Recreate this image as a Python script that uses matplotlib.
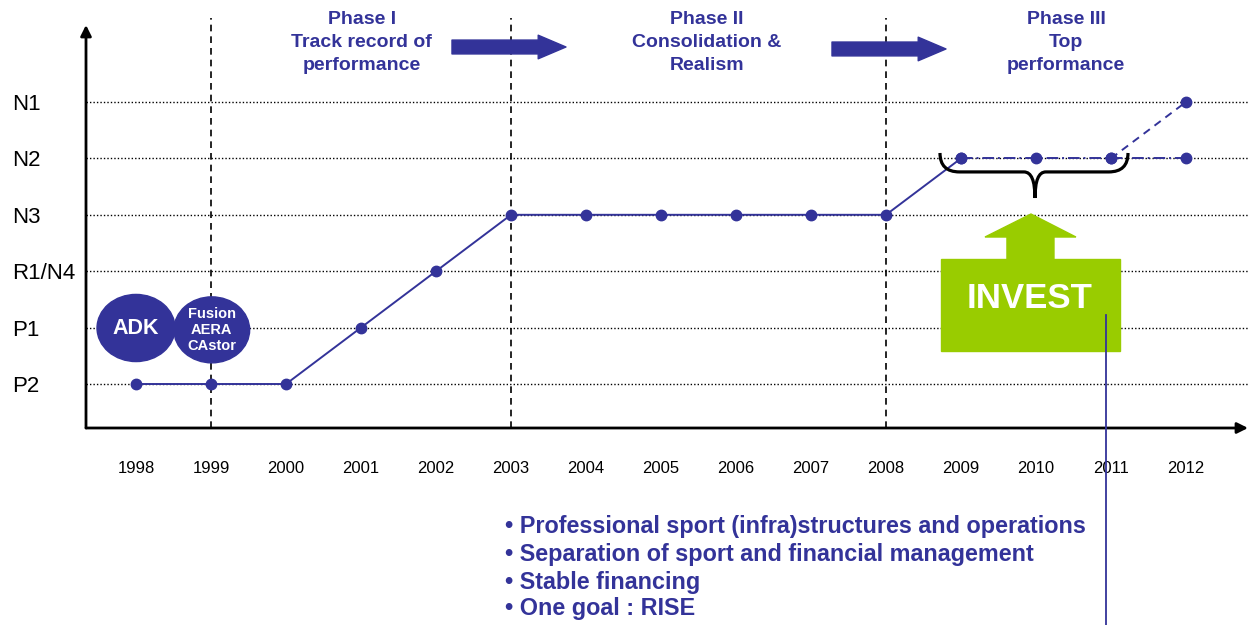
import matplotlib
matplotlib.use("Agg")
import matplotlib.pyplot as plt
from matplotlib.patches import Ellipse, Polygon, Rectangle, PathPatch
from matplotlib.path import Path

plt.rcParams['font.family'] = ['Liberation Sans', 'DejaVu Sans']

NAVY = "#333399"
GREEN = "#99cc00"

# Donnees du graphique
years = [1998, 1999, 2000, 2001, 2002, 2003, 2004, 2005, 2006, 2007, 2008, 2009, 2010, 2011, 2012]
level_labels = ["P2", "P1", "R1/N4", "N3", "N2", "N1"]
level_values = [0, 1, 2, 3, 4, 5]

# parcours realise (trait plein)
done_years = [1998, 1999, 2000, 2001, 2002, 2003, 2004, 2005, 2006, 2007, 2008, 2009]
done_levels = [0, 0, 0, 1, 2, 3, 3, 3, 3, 3, 3, 4]
# plateau N2 prevu (tiret-point)
plan_years = [2009, 2010, 2011, 2012]
plan_levels = [4, 4, 4, 4]
# montee possible en N1 (tirets)
up_years = [2011, 2012]
up_levels = [4, 5]

phase_years = [1999, 2003, 2008]
phases = ["Phase I\nTrack record of\nperformance",
          "Phase II\nConsolidation &\nRealism",
          "Phase III\nTop\nperformance"]
phase_x = [2001.01, 2005.61, 2010.4]

bullets = ["• Professional sport (infra)structures and operations",
           "• Separation of sport and financial management",
           "• Stable financing",
           "• One goal : RISE"]

fig = plt.figure(figsize=(12.51, 6.25), dpi=100)
ax = fig.add_axes([86 / 1251, 197 / 625, 1162 / 1251, 403 / 625])
ax.set_xlim(1997.333, 2012.827)
ax.set_ylim(-0.780, 6.365)

for s in ax.spines.values():
    s.set_visible(False)

# axes avec fleches
ax.annotate("", xy=(0, 1), xytext=(0, 0), xycoords="axes fraction",
            arrowprops=dict(arrowstyle="-|>", color="black", lw=2, mutation_scale=16, shrinkA=0, shrinkB=0))
ax.annotate("", xy=(1, 0), xytext=(0, 0), xycoords="axes fraction",
            arrowprops=dict(arrowstyle="-|>", color="black", lw=2, mutation_scale=16, shrinkA=0, shrinkB=0))

ax.set_xticks(years)
ax.set_xticklabels([str(y) for y in years])
ax.tick_params(axis="x", length=0, pad=24, labelsize=12)
ax.set_yticks(level_values)
ax.set_yticklabels(level_labels)
ax.tick_params(axis="y", length=0, pad=53, labelsize=16)
for lbl in ax.get_yticklabels():
    lbl.set_horizontalalignment("left")

# lignes de niveaux pointillees
for v in level_values:
    ax.axhline(v, color="black", linestyle=(0, (1, 1.5)), lw=1, zorder=1)

# separations de phases
for py in phase_years:
    ax.plot([py, py], [-0.780, 6.489], color="black", linestyle=(0, (4, 3)), lw=1.2, clip_on=False, zorder=1)

# textes des phases
for txt, x in zip(phases, phase_x):
    ax.text(x, 6.06, txt, ha="center", va="center", color=NAVY, fontsize=14,
            fontweight="bold", linespacing=1.45, clip_on=False)

# fleches bleues entre les phases
for x0, x1, y in [(2002.213, 2003.733, 5.975), (2007.28, 2008.8, 5.94)]:
    ax.annotate("", xy=(x1, y), xytext=(x0, y),
                arrowprops=dict(arrowstyle="simple,head_width=1.7,head_length=2.0,tail_width=1.0",
                                color=NAVY, mutation_scale=10, shrinkA=0, shrinkB=0), annotation_clip=False)

# courbes
ax.plot(done_years, done_levels, color=NAVY, lw=1.4, marker="o", markersize=7.5, zorder=3)
ax.plot(plan_years, plan_levels, color=NAVY, lw=1.4, linestyle=(0, (6, 2, 1, 2)), marker="o", markersize=7.5, zorder=3)
ax.plot(up_years, up_levels, color=NAVY, lw=1.4, linestyle=(0, (4, 3)), marker="o", markersize=7.5, zorder=3)

# bulles ADK / Fusion
ax.add_patch(Ellipse((1998, 0.993), 1.04, 1.19, color=NAVY, zorder=4))
ax.add_patch(Ellipse((1999.01, 0.96), 1.01, 1.17, color=NAVY, zorder=4))
ax.text(1998, 0.98, "ADK", color="white", fontsize=15.5, fontweight="bold", ha="center", va="center", zorder=5)
ax.text(1999.01, 0.96, "Fusion\nAERA\nCAstor", color="white", fontsize=10.5, fontweight="bold",
        ha="center", va="center", linespacing=1.2, zorder=5)

# accolade
verts = [(2008.72, 4.096), (2008.72, 3.76), (2008.98, 3.76),
         (2009.84, 3.76), (2009.987, 3.76), (2009.987, 3.298),
         (2009.987, 3.76), (2010.13, 3.76),
         (2010.97, 3.76), (2011.227, 3.76), (2011.227, 4.096)]
codes = [Path.MOVETO, Path.CURVE3, Path.CURVE3,
         Path.LINETO, Path.CURVE3, Path.CURVE3,
         Path.CURVE3, Path.CURVE3,
         Path.LINETO, Path.CURVE3, Path.CURVE3]
ax.add_patch(PathPatch(Path(verts, codes), fill=False, lw=2.3, color="black", zorder=4))

# bloc INVEST
ax.add_patch(Rectangle((2008.733, 0.585), 2.387, 1.631, color=GREEN, zorder=4))
ax.add_patch(Polygon([(2009.613, 2.2), (2009.613, 2.606), (2009.32, 2.606), (2009.933, 3.014),
                      (2010.533, 2.606), (2010.24, 2.606), (2010.24, 2.2)], closed=True, color=GREEN, zorder=4))
ax.text(2009.92, 1.52, "INVEST", color="white", fontsize=25, fontweight="bold", ha="center", va="center", zorder=5)

# trait vertical vers la liste
ax.plot([2010.933, 2010.933], [1.223, -4.28], color=NAVY, lw=1.3, clip_on=False, zorder=5)

# liste des objectifs
bullet_y = [-2.535, -3.014, -3.511, -3.972]
for txt, y in zip(bullets, bullet_y):
    ax.text(2002.92, y, txt, color=NAVY, fontsize=16.8, fontweight="bold", ha="left", va="center", clip_on=False)

fig.savefig("out.png", dpi=100)
